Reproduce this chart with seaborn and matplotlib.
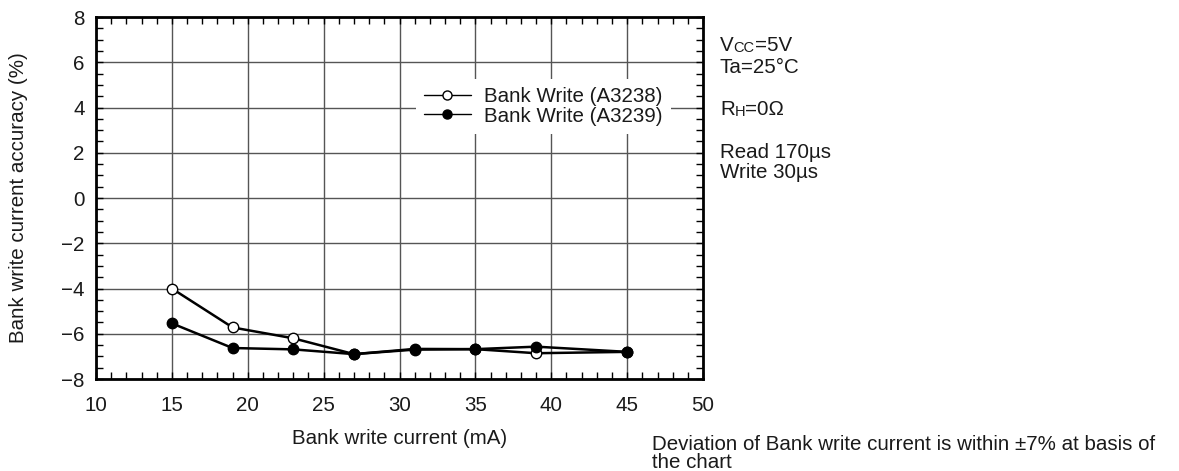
import matplotlib
matplotlib.use("Agg")
import matplotlib.pyplot as plt
from matplotlib.ticker import MultipleLocator
import numpy as np
import pandas as pd
import seaborn as sns

# Measured accuracy of the bank write current
current_ma = [15, 19, 23, 27, 31, 35, 39, 45]
acc_a3238 = [-4.0, -5.72, -6.2, -6.9, -6.7, -6.68, -6.86, -6.8]
acc_a3239 = [-5.54, -6.63, -6.69, -6.9, -6.67, -6.68, -6.57, -6.8]
series_names = ["Bank Write (A3238)", "Bank Write (A3239)"]

sns.set_theme(style="white")
plt.rcParams["font.family"] = ["Liberation Sans", "DejaVu Sans"]
plt.rcParams["text.color"] = "#1a1a1a"
plt.rcParams["axes.labelcolor"] = "#1a1a1a"

FS = 14.8
SMALL = 10.5

df = pd.DataFrame({
    "current": current_ma * 2,
    "accuracy": acc_a3238 + acc_a3239,
    "series": [series_names[0]] * len(current_ma) + [series_names[1]] * len(current_ma),
})

fig = plt.figure(figsize=(11.79, 4.71), dpi=100)
ax = fig.add_axes([0.0814, 0.1953, 0.5149, 0.7686])

line_kw = dict(color="black", linewidth=1.8, markersize=7.5, markeredgecolor="black",
               markeredgewidth=1.0, zorder=5)
sns.lineplot(data=df[df.series == series_names[0]], x="current", y="accuracy",
             ax=ax, marker="o", markerfacecolor="white", label=series_names[0], **line_kw)
sns.lineplot(data=df[df.series == series_names[1]], x="current", y="accuracy",
             ax=ax, marker="o", markerfacecolor="black", label=series_names[1], **line_kw)

ax.set_xlim(10, 50)
ax.set_ylim(-8, 8)
ax.xaxis.set_major_locator(MultipleLocator(5))
ax.xaxis.set_minor_locator(MultipleLocator(1))
ax.yaxis.set_major_locator(MultipleLocator(2))
ax.yaxis.set_minor_locator(MultipleLocator(0.5))
ax.grid(True, which="major", color="#555555", linewidth=1.0)
ax.set_axisbelow(True)
ax.tick_params(which="both", direction="in", top=True, right=True,
               bottom=True, left=True, colors="black", labelcolor="#1a1a1a", labelsize=FS)
ax.tick_params(which="major", length=5, width=1.0)
ax.tick_params(which="minor", length=5, width=1.0)
ax.tick_params(axis="x", which="major", pad=12)
ax.tick_params(axis="y", which="major", pad=8)
for s in ax.spines.values():
    s.set_linewidth(2.0)
    s.set_color("black")

ax.set_xlabel("Bank write current (mA)", fontsize=FS)
ax.set_ylabel("Bank write current accuracy (%)", fontsize=FS)
ax.xaxis.set_label_coords(0.5, -0.138)
ax.yaxis.set_label_coords(-0.112, 0.5)

leg = ax.legend(loc="center", bbox_to_anchor=(0.737, 0.753), frameon=True,
                fontsize=FS, handlelength=2.25, handletextpad=0.65,
                labelspacing=0.02, borderpad=0.4)
frame = leg.get_frame()
frame.set_edgecolor("white")
frame.set_facecolor("white")
frame.set_alpha(1.0)
frame.set_linewidth(0)
for h in leg.get_lines():
    h.set_markersize(6.5)
    h.set_linewidth(1.0)

# Test conditions to the right of the plot
x0 = 720 / 1179


def fy(py):
    return 1 - py / 471


def subscript_line(py, main, sub, rest):
    t1 = fig.text(x0, fy(py), main, fontsize=FS, va="baseline", ha="left")
    t2 = ax.annotate(sub, xy=(1, 0), xycoords=t1, va="bottom", ha="left",
                     fontsize=SMALL, annotation_clip=False)
    ax.annotate(rest, xy=(1, 0), xycoords=t2, va="bottom", ha="left",
                fontsize=FS, annotation_clip=False)


subscript_line(51, "V", "CC", "=5V")
fig.text(x0, fy(73), "Ta=25°C", fontsize=FS, va="baseline", ha="left")
subscript_line(115, "R", "H", "=0Ω")
fig.text(x0, fy(158), "Read 170µs", fontsize=FS, va="baseline", ha="left")
fig.text(x0, fy(178), "Write 30µs", fontsize=FS, va="baseline", ha="left")

fig.text(652 / 1179, fy(450), "Deviation of Bank write current is within ±7% at basis of",
         fontsize=FS, va="baseline", ha="left")
fig.text(652 / 1179, fy(468), "the chart", fontsize=FS, va="baseline", ha="left")

fig.savefig("out.png", dpi=100, facecolor="white")
